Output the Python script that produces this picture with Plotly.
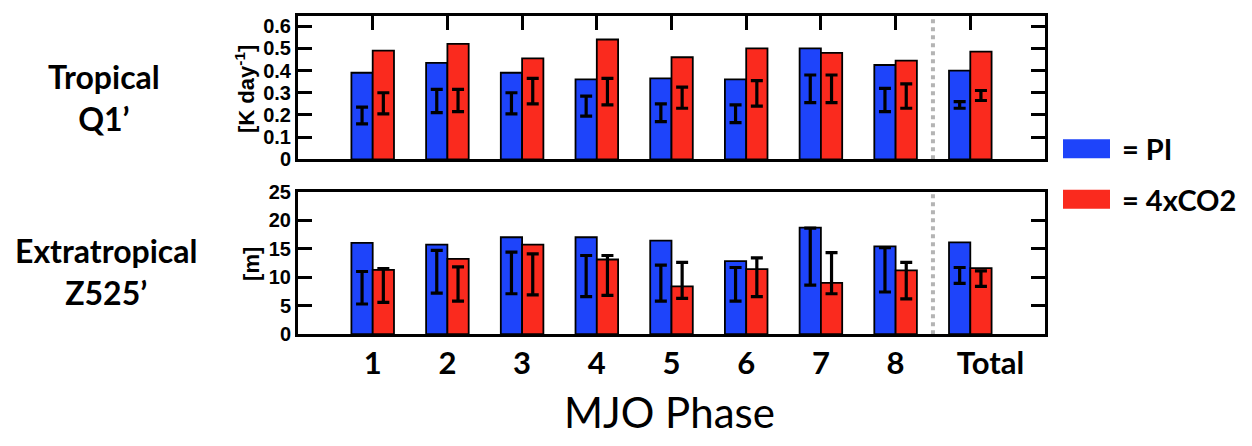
import numpy as np
import plotly.graph_objects as go

# MJO phases plus the all-phase total
phases = ["1", "2", "3", "4", "5", "6", "7", "8", "Total"]

# Tropical Q1' amplitude [K day^-1]
q1_pi = [0.39, 0.435, 0.39, 0.36, 0.365, 0.36, 0.50, 0.425, 0.40]
q1_4x = [0.49, 0.52, 0.455, 0.54, 0.46, 0.50, 0.48, 0.445, 0.485]
q1_pi_lo = [0.16, 0.21, 0.205, 0.195, 0.17, 0.165, 0.255, 0.215, 0.23]
q1_pi_hi = [0.235, 0.315, 0.30, 0.285, 0.25, 0.245, 0.38, 0.32, 0.26]
q1_4x_lo = [0.205, 0.215, 0.25, 0.245, 0.23, 0.24, 0.255, 0.23, 0.265]
q1_4x_hi = [0.30, 0.315, 0.365, 0.365, 0.325, 0.355, 0.38, 0.34, 0.31]

# Extratropical Z525' amplitude [m]
z_pi = [16.0, 15.7, 17.0, 17.0, 16.4, 12.8, 18.7, 15.4, 16.1]
z_4x = [11.3, 13.2, 15.7, 13.1, 8.4, 11.4, 9.0, 11.2, 11.6]
z_pi_lo = [5.3, 7.2, 7.1, 6.6, 5.8, 5.8, 8.6, 7.4, 8.9]
z_pi_hi = [11.0, 14.7, 14.4, 13.8, 12.1, 11.7, 18.6, 15.2, 11.7]
z_4x_lo = [5.6, 5.8, 6.9, 6.8, 6.3, 6.6, 7.1, 6.2, 8.4]
z_4x_hi = [11.5, 11.8, 14.1, 13.8, 12.6, 13.4, 14.3, 12.6, 11.1]

BLUE = "#1e44fa"
RED = "#fa2a1e"
BAR_W = 0.285
xpos = np.arange(1, len(phases) + 1)
split_at = len(phases) - 0.5  # between phase 8 and Total

# the "Total" label sits a little to the right of its bar pair
label_pos = xpos.astype(float).copy()
label_pos[-1] += 0.27

fig = go.Figure()


def add_panel(pi, fx, pi_lo, pi_hi, fx_lo, fx_hi, xa, ya):
    for vals, col, sign, lo, hi in [(pi, BLUE, -1, pi_lo, pi_hi), (fx, RED, 1, fx_lo, fx_hi)]:
        x = xpos + sign * BAR_W / 2
        fig.add_trace(go.Bar(x=x, y=vals, width=BAR_W, marker=dict(color=col, line=dict(color="black", width=1.8)),
                             xaxis=xa, yaxis=ya, showlegend=False))
        lo = np.array(lo)
        hi = np.array(hi)
        fig.add_trace(go.Scatter(x=x, y=(lo + hi) / 2, mode="markers", marker=dict(size=1, opacity=0),
                                 error_y=dict(type="data", array=(hi - lo) / 2, color="black", thickness=3.2, width=6),
                                 xaxis=xa, yaxis=ya, showlegend=False))


add_panel(q1_pi, q1_4x, q1_pi_lo, q1_pi_hi, q1_4x_lo, q1_4x_hi, "x", "y")
add_panel(z_pi, z_4x, z_pi_lo, z_pi_hi, z_4x_lo, z_4x_hi, "x2", "y2")

W, H = 1252, 446
xdom = [298 / W, 1045 / W]
top_dom = [1 - 156 / H, 1 - 5 / H]
bot_dom = [1 - 340 / H, 1 - 190 / H]

tick_font = dict(family="Liberation Sans, Arial", size=20, color="black", weight="bold")
axis_common = dict(showline=True, linewidth=3, linecolor="black", showgrid=False, zeroline=False,
                   ticks="inside", ticklen=14, tickwidth=3, tickcolor="black")

fig.update_layout(
    width=W, height=H, margin=dict(l=0, r=0, t=0, b=0),
    paper_bgcolor="white", plot_bgcolor="white", barmode="overlay",
    xaxis=dict(axis_common, domain=xdom, anchor="y", side="top", range=[0, 10], tickvals=list(xpos),
               showticklabels=False, mirror=True),
    yaxis=dict(axis_common, domain=top_dom, anchor="x", range=[0, 0.647], tickvals=[0, 0.1, 0.2, 0.3, 0.4, 0.5, 0.6],
               ticktext=["0", "0.1", "0.2", "0.3", "0.4", "0.5", "0.6"], mirror="ticks", tickfont=tick_font,
               ticklabelstandoff=0),
    xaxis2=dict(axis_common, domain=xdom, anchor="y2", range=[0, 10], tickvals=list(label_pos), ticktext=phases,
                ticks="", mirror=True, tickfont=dict(family="Lato", size=31, color="black", weight="bold")),
    xaxis3=dict(overlaying="x2", anchor="y2", side="top", range=[0, 10], tickvals=list(xpos), ticks="inside",
                ticklen=14, tickwidth=3, tickcolor="black", showticklabels=False, showline=False, showgrid=False,
                zeroline=False),
    yaxis2=dict(axis_common, domain=bot_dom, anchor="x2", range=[0, 25], tickvals=[0, 5, 10, 15, 20, 25],
                mirror="ticks", tickfont=tick_font, ticklabelstandoff=0),
)

# separator between individual phases and the total
for xa, ya in [("x", "y"), ("x2", "y2")]:
    fig.add_shape(type="line", xref=xa, yref=f"{ya} domain", x0=split_at, x1=split_at, y0=0, y1=1,
                  line=dict(color="#b4b4b4", width=4, dash="dot"), layer="below")


def label(text, x, y, font, **kw):
    fig.add_annotation(text=text, xref="paper", yref="paper", x=x / W, y=1 - y / H, showarrow=False,
                       font=font, xanchor=kw.pop("xanchor", "center"), yanchor="middle", **kw)


ann_font = dict(family="Lato", size=32, color="black", weight="bold")
unit_font = dict(family="Liberation Sans, Arial", size=22, color="black", weight="bold")
label("Tropical<br>Q1’", 104, 91, ann_font, align="center")
label("Extratropical<br>Z525’", 106, 274, ann_font, align="center")
label("[K day<sup>-1</sup>]", 245, 82, unit_font, textangle=-90)
label("[m]", 252, 266, unit_font, textangle=-90)
label("MJO Phase", 669, 422, dict(family="Lato", size=42, color="black"))

# legend keys
for col, text, yc in [(BLUE, "= PI", 145), (RED, "= 4xCO2", 198)]:
    fig.add_shape(type="rect", xref="paper", yref="paper", x0=1063 / W, x1=1110 / W,
                  y0=1 - (yc + 10) / H, y1=1 - (yc - 10) / H, fillcolor=col, line=dict(width=0))
    label(text, 1120, yc, dict(family="Lato", size=29, color="black", weight="bold"), xanchor="left")

fig.write_html("out.html")
